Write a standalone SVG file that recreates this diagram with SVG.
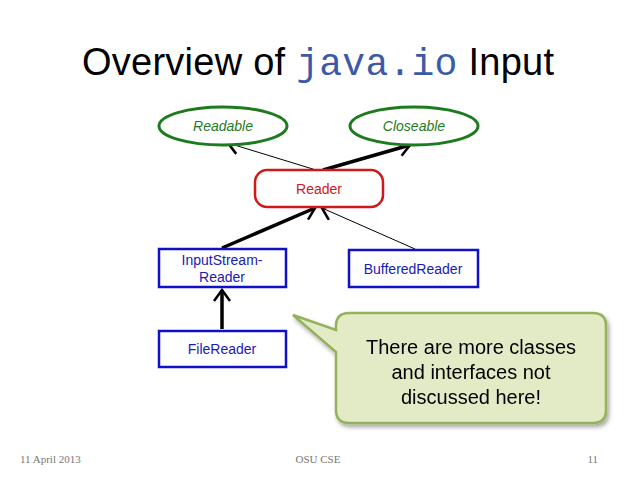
<svg xmlns="http://www.w3.org/2000/svg" width="638" height="479" viewBox="0 0 638 479">
<style>
.t{font-family:"Liberation Sans",Arial,sans-serif}
.blue{fill:#fff;stroke:#1010c8;stroke-width:2.5}
.bt{fill:#1a1ab4;font-size:14px;text-anchor:middle}
.ell{fill:#fff;stroke:#1e7a1e;stroke-width:3}
.gt{fill:#1e7a1e;font-size:14px;font-style:italic;text-anchor:middle}
.thin{stroke:#000;stroke-width:1;fill:none}
.thick{stroke:#000;stroke-width:3.5;fill:none}
</style>
<defs>
<marker id="v" viewBox="-13 -9 15 18" markerWidth="15" markerHeight="18" markerUnits="userSpaceOnUse" orient="auto" refX="0" refY="0">
<path d="M-11,-8 L0,0 L-11,8" fill="none" stroke="#000" stroke-width="2.5"/>
</marker>
<filter id="sh"><feDropShadow dx="2" dy="3" stdDeviation="2" flood-opacity="0.35"/></filter>
</defs>
<rect width="638" height="479" fill="#fff"/>
<text class="t" x="82" y="75" font-size="38" fill="#000" textLength="472">Overview of <tspan font-family="'Liberation Mono',monospace" fill="#3a5aa8">java.io</tspan> Input</text>
<g id="connectors">
<line class="thin" x1="316" y1="170" x2="228" y2="143" marker-end="url(#v)"/>
<line class="thick" x1="323" y1="170" x2="410" y2="145" marker-end="url(#v)"/>
<line class="thick" x1="222" y1="248" x2="315" y2="208" marker-end="url(#v)"/>
<line class="thin" x1="415" y1="249" x2="322" y2="208" marker-end="url(#v)"/>
<line class="thick" x1="222" y1="329" x2="222" y2="290" marker-end="url(#v)"/>
</g>
<g id="readable"><ellipse class="ell" cx="223" cy="126" rx="64" ry="19"/><text class="t gt" x="223" y="131">Readable</text></g>
<g id="closeable"><ellipse class="ell" cx="414" cy="126" rx="64" ry="19"/><text class="t gt" x="414" y="131">Closeable</text></g>
<g id="reader"><rect x="255" y="170" width="128" height="37" rx="12" fill="#fff" stroke="#d01818" stroke-width="2.5"/><text class="t" x="319" y="194" font-size="14" fill="#d01818" text-anchor="middle">Reader</text></g>
<g id="isr"><rect class="blue" x="159" y="249" width="127" height="38"/><text class="t bt" x="222" y="265">InputStream-</text><text class="t bt" x="222" y="282">Reader</text></g>
<g id="br"><rect class="blue" x="349" y="250" width="129" height="37"/><text class="t bt" x="413" y="274">BufferedReader</text></g>
<g id="fr"><rect class="blue" x="159" y="331" width="127" height="36"/><text class="t bt" x="222" y="354">FileReader</text></g>
<g id="callout" filter="url(#sh)">
<path d="M349,313 H593 Q606,313 606,326 V410 Q606,423 593,423 H349 Q336,423 336,410 V352 L293,315 L336,330 V326 Q336,313 349,313 Z" fill="#e3ebc6" stroke="#93b25a" stroke-width="2.5"/>
<text class="t" x="471" y="354" font-size="20" text-anchor="middle" fill="#000">There are more classes</text>
<text class="t" x="471" y="379" font-size="20" text-anchor="middle" fill="#000">and interfaces not</text>
<text class="t" x="471" y="404" font-size="20" text-anchor="middle" fill="#000">discussed here!</text>
</g>
<text x="20" y="463" font-family="'Liberation Serif',serif" font-size="11" fill="#777">11 April 2013</text>
<text x="318" y="463" font-family="'Liberation Serif',serif" font-size="11" fill="#777" text-anchor="middle">OSU CSE</text>
<text x="598" y="463" font-family="'Liberation Serif',serif" font-size="11" fill="#777" text-anchor="end">11</text>
</svg>
